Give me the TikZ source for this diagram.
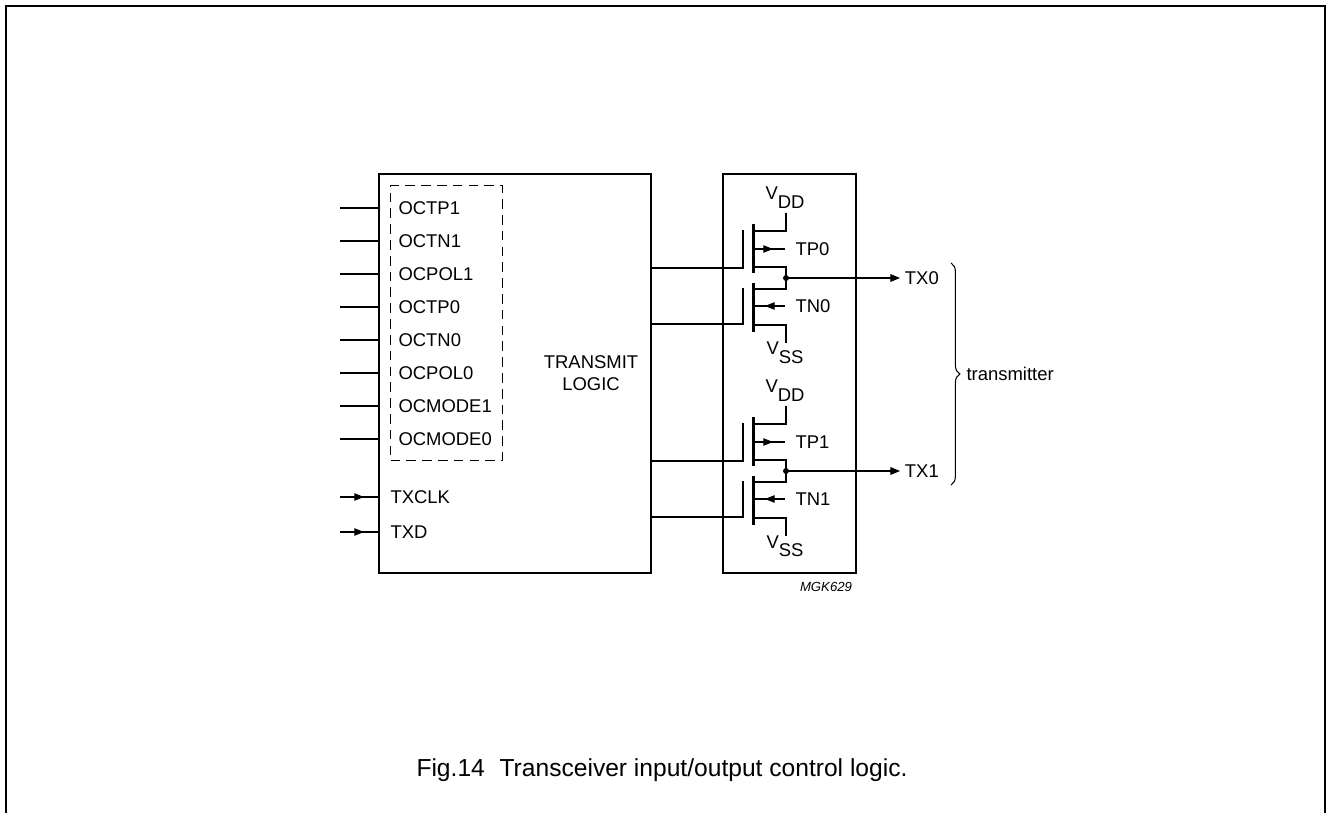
\documentclass[tikz,border=0pt]{standalone}
\usepackage{fontspec}
\setmainfont{Liberation Sans}
\usetikzlibrary{arrows.meta,decorations.pathreplacing,decorations.markings}
\newcommand\lblsize{\fontsize{10.5}{12.6}\selectfont}
\begin{document}
\begin{tikzpicture}[
    x=0.02cm, y=-0.02cm,
    line width=0.6pt,
    lbl/.style={font=\lblsize, inner sep=0pt},
    box/.style={draw, line width=1.1pt, inner sep=0pt, anchor=north west},
    chan/.style={line width=1.7pt},
    tip/.style={-{Triangle[length=5.5pt,width=4.4pt]}},
    midarrow/.style={postaction={decorate}, decoration={markings,
        mark=at position #1 with {\arrow{Triangle[length=5.5pt,width=4.2pt]}}}}
    ]
  \useasboundingbox (0,0) rectangle (1327,813);
  % frame
  \draw[line width=1.1pt] (6,813) -- (6,6) -- (1325,6) -- (1325,813);

  % blocks
  \node[box, minimum width=5.44cm, minimum height=7.98cm] (logic) at (378,173) {};
  \node[box, minimum width=2.66cm, minimum height=7.98cm] (drv) at (722,173) {};
  \node[box, line width=0.6pt, dash pattern=on 5.5pt off 3.5pt,
        minimum width=2.24cm, minimum height=5.5cm] (ocreg) at (390,185) {};
  \node[lbl, align=center] (tlogic) at (591,373) {TRANSMIT\\LOGIC};

  % control inputs
  \foreach \name [count=\i] in {OCTP1,OCTN1,OCPOL1,OCTP0,OCTN0,OCPOL0,OCMODE1,OCMODE0}{
    \node[lbl, anchor=west] (oc\i) at (398,{175+33*\i}) {\name};
    \coordinate (in\i) at (340,{175+33*\i});
    \draw (in\i) -- (in\i -| logic.west);
  }
  \foreach \name/\y in {TXCLK/497,TXD/532}{
    \node[lbl, anchor=west] (\name) at (390,\y) {\name};
    \coordinate (in\name) at (340,\y);
    \draw[midarrow=0.63] (in\name) -- (in\name -| logic.west);
  }

  % output transistor pairs
  \foreach \k/\y in {0/278,1/471}{
    \coordinate (dot\k) at (786,\y);
    \node[lbl, anchor=base] (vdd\k) at (785,\y-78) {V\raisebox{-5pt}{DD}};
    \node[lbl, anchor=base] (vss\k) at (785,\y+77) {V\raisebox{-5pt}{SS}};
    % p-channel
    \draw[chan] (753,\y-54) -- (753,\y-5);
    \draw (786,\y-65) -- (786,\y-47) -- (755,\y-47);
    \coordinate (gp\k) at (743,\y-10);
    \draw (743,\y-48) -- (gp\k) -- (gp\k -| logic.east);
    \draw[midarrow=0.6] (755,\y-29) -- (785,\y-29);
    \node[lbl, anchor=west] (tp\k) at (795,\y-29) {TP\k};
    \draw (755,\y-11) -- (786,\y-11) -- (dot\k) -- (786,\y+11) -- (755,\y+11);
    % n-channel
    \draw[chan] (753,\y+5) -- (753,\y+54);
    \coordinate (gn\k) at (743,\y+46);
    \draw (743,\y+10) -- (gn\k) -- (gn\k -| logic.east);
    \draw[midarrow=0.67] (785,\y+28) -- (755,\y+28);
    \node[lbl, anchor=west] (tn\k) at (795,\y+28) {TN\k};
    \draw (755,\y+47) -- (786,\y+47) -- (786,\y+65);
    % output
    \fill (dot\k) circle (1.7pt);
    \node[lbl, anchor=west, inner xsep=2.5pt] (tx\k) at (900,\y) {TX\k};
    \draw[tip] (dot\k) -- (tx\k.west);
  }

  % transmitter brace
  \draw[decorate, decoration={brace, amplitude=5pt}] (951,263) -- (951,485);
  \node[lbl, anchor=west] (txlbl) at (966,374) {transmitter};

  \node[font=\fontsize{7.5}{9}\selectfont\itshape, inner sep=0pt] (code) at (826,587) {MGK629};
  \node[font=\fontsize{14}{16}\selectfont, inner sep=0pt, anchor=base] (caption) at (662,776)
    {Fig.14\hspace{0.6em}Transceiver input/output control logic.};
\end{tikzpicture}
\end{document}
